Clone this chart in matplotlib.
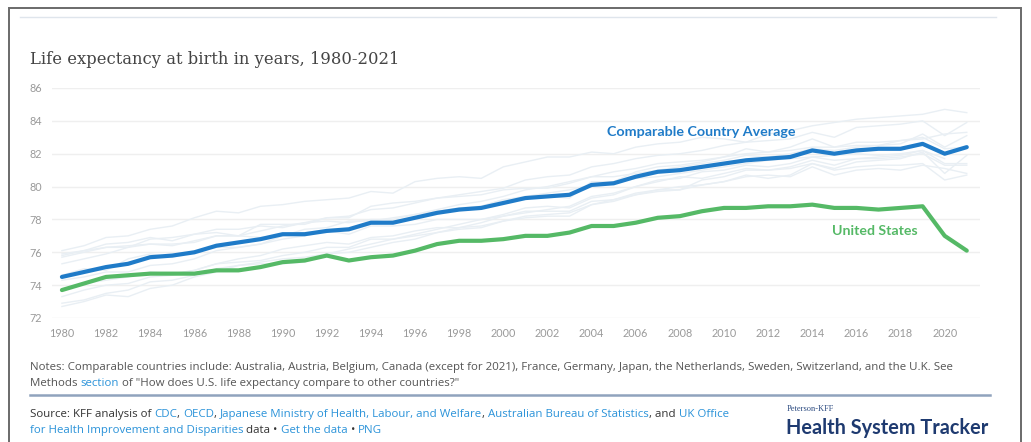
import numpy as np
import matplotlib
matplotlib.use("Agg")
import matplotlib.pyplot as plt
from matplotlib.patches import Rectangle
from matplotlib.lines import Line2D

years = list(range(1980, 2022))

comparable_avg = [74.5, 74.8, 75.1, 75.3, 75.7, 75.8, 76.0, 76.4, 76.6, 76.8,
                  77.1, 77.1, 77.3, 77.4, 77.8, 77.8, 78.1, 78.4, 78.6, 78.7,
                  79.0, 79.3, 79.4, 79.5, 80.1, 80.2, 80.6, 80.9, 81.0, 81.2,
                  81.4, 81.6, 81.7, 81.8, 82.2, 82.0, 82.2, 82.3, 82.3, 82.6,
                  82.0, 82.4]

united_states = [73.7, 74.1, 74.5, 74.6, 74.7, 74.7, 74.7, 74.9, 74.9, 75.1,
                 75.4, 75.5, 75.8, 75.5, 75.7, 75.8, 76.1, 76.5, 76.7, 76.7,
                 76.8, 77.0, 77.0, 77.2, 77.6, 77.6, 77.8, 78.1, 78.2, 78.5,
                 78.7, 78.7, 78.8, 78.8, 78.9, 78.7, 78.7, 78.6, 78.7, 78.8,
                 77.0, 76.1]

# individual comparable countries (faint background lines)
japan = [76.1, 76.4, 76.9, 77.0, 77.4, 77.6, 78.1, 78.5, 78.4, 78.8,
         78.9, 79.1, 79.2, 79.3, 79.7, 79.6, 80.3, 80.5, 80.6, 80.5,
         81.2, 81.5, 81.8, 81.8, 82.1, 82.0, 82.4, 82.6, 82.7, 83.0,
         82.9, 82.7, 83.2, 83.4, 83.7, 83.9, 84.1, 84.2, 84.3, 84.4,
         84.7, 84.5]
switzerland = [75.7, 76.0, 76.3, 76.3, 76.8, 76.9, 77.1, 77.4, 77.4, 77.6,
               77.5, 77.8, 78.1, 78.2, 78.6, 78.7, 79.0, 79.3, 79.5, 79.7,
               79.9, 80.4, 80.6, 80.7, 81.2, 81.4, 81.7, 81.9, 82.0, 82.2,
               82.5, 82.7, 82.8, 82.9, 83.3, 83.0, 83.6, 83.7, 83.8, 84.0,
               83.1, 83.9]
sweden = [75.8, 76.1, 76.5, 76.6, 76.9, 76.7, 77.1, 77.2, 77.0, 77.7,
          77.7, 77.7, 78.1, 78.1, 78.8, 79.0, 79.1, 79.3, 79.4, 79.5,
          79.8, 79.9, 79.9, 80.2, 80.6, 80.6, 80.8, 81.0, 81.2, 81.4,
          81.6, 81.9, 81.8, 82.0, 82.3, 82.2, 82.4, 82.5, 82.6, 83.2,
          82.4, 83.1]
australia = [74.6, 75.0, 74.9, 75.6, 75.9, 75.7, 76.0, 76.3, 76.3, 76.5,
             77.0, 77.4, 77.5, 77.9, 77.9, 78.1, 78.3, 78.6, 78.9, 79.1,
             79.4, 79.8, 80.0, 80.3, 80.6, 80.9, 81.1, 81.4, 81.5, 81.6,
             81.8, 82.0, 82.1, 82.2, 82.4, 82.4, 82.5, 82.5, 82.8, 82.9,
             83.2, 83.3]
canada = [75.3, 75.6, 75.9, 76.3, 76.5, 76.4, 76.7, 77.0, 77.0, 77.3,
          77.6, 77.8, 77.9, 77.8, 78.0, 78.0, 78.3, 78.5, 78.7, 78.8,
          79.2, 79.4, 79.6, 79.8, 80.1, 80.2, 80.5, 80.6, 80.8, 81.0,
          81.2, 81.4, 81.6, 81.7, 81.8, 81.9, 82.0, 81.9, 82.0, 82.2,
          81.7, np.nan]
france = [74.3, 74.5, 74.8, 74.8, 75.2, 75.3, 75.6, 76.1, 76.3, 76.5,
          76.8, 77.0, 77.3, 77.3, 77.7, 77.9, 78.1, 78.5, 78.6, 78.8,
          79.2, 79.3, 79.4, 79.3, 80.3, 80.3, 80.9, 81.2, 81.3, 81.5,
          81.8, 82.3, 82.1, 82.4, 82.9, 82.4, 82.7, 82.7, 82.8, 83.0,
          82.3, 82.4]
germany = [72.9, 73.1, 73.5, 73.7, 74.2, 74.3, 74.6, 75.0, 75.2, 75.3,
           75.3, 75.4, 75.9, 76.0, 76.3, 76.6, 76.8, 77.2, 77.5, 77.8,
           78.2, 78.5, 78.5, 78.5, 79.1, 79.2, 79.6, 79.8, 80.0, 80.1,
           80.3, 80.6, 80.7, 80.6, 81.2, 80.7, 81.0, 81.1, 81.0, 81.3,
           81.1, 80.8]
netherlands = [75.9, 76.1, 76.3, 76.4, 76.5, 76.5, 76.6, 77.0, 77.0, 76.9,
               77.1, 77.2, 77.3, 77.1, 77.6, 77.6, 77.7, 78.0, 78.0, 78.0,
               78.2, 78.4, 78.6, 78.8, 79.4, 79.6, 80.0, 80.4, 80.5, 80.9,
               81.0, 81.3, 81.2, 81.4, 81.8, 81.6, 81.7, 81.8, 81.9, 82.2,
               81.4, 81.4]
uk = [73.7, 74.1, 74.3, 74.5, 74.8, 74.7, 74.9, 75.3, 75.4, 75.5,
      75.8, 76.0, 76.3, 76.3, 76.8, 76.8, 77.0, 77.2, 77.4, 77.5,
      77.9, 78.2, 78.3, 78.4, 78.9, 79.2, 79.5, 79.7, 79.8, 80.4,
      80.6, 81.0, 81.0, 81.1, 81.4, 81.0, 81.2, 81.3, 81.3, 81.4,
      80.4, 80.7]
belgium = [73.3, 73.7, 74.0, 74.1, 74.5, 74.6, 74.9, 75.3, 75.6, 75.8,
           76.2, 76.4, 76.6, 76.5, 76.9, 77.0, 77.3, 77.5, 77.5, 77.6,
           77.9, 78.1, 78.2, 78.2, 78.9, 79.1, 79.5, 79.8, 79.8, 80.1,
           80.3, 80.7, 80.5, 80.7, 81.4, 81.1, 81.5, 81.6, 81.7, 82.1,
           80.8, 81.9]
austria = [72.7, 73.0, 73.4, 73.3, 73.8, 74.0, 74.5, 74.8, 75.2, 75.4,
           75.6, 75.7, 75.9, 76.2, 76.5, 76.8, 77.1, 77.4, 77.7, 78.0,
           78.3, 78.7, 78.8, 78.7, 79.3, 79.5, 80.0, 80.3, 80.6, 80.5,
           80.8, 81.1, 81.0, 81.2, 81.6, 81.3, 81.7, 81.7, 81.8, 82.0,
           81.3, 81.3]
countries = [japan, switzerland, sweden, australia, canada, france,
             germany, netherlands, uk, belgium, austria]

y_ticks = [72, 74, 76, 78, 80, 82, 84, 86]
x_ticks = list(range(1980, 2021, 2))

BLUE = "#1f7bc8"
GREEN = "#55b966"
LINK = "#2b93d9"
TEXT = "#555555"

W, H = 1031, 442
fig = plt.figure(figsize=(W / 100, H / 100), dpi=100)
fig.patch.set_facecolor("white")


def fx(px):
    return px / W


def fy(py):
    return 1 - py / H


# outer frame and top rule
fig.patches.append(Rectangle((fx(9), fy(460)), fx(1021) - fx(9), fy(8) - fy(460),
                             transform=fig.transFigure, fill=False,
                             edgecolor="#6a6a6a", linewidth=1.4))
fig.lines.append(Line2D([fx(20), fx(996)], [fy(17), fy(17)],
                        transform=fig.transFigure, color="#dfe5ec", linewidth=1))

fig.text(fx(30), fy(64), "Life expectancy at birth in years, 1980-2021",
         family="DejaVu Serif", fontsize=11.8, color="#444444", va="baseline")

ax = fig.add_axes([fx(52), fy(318), fx(980) - fx(52), (318 - 88) / H])
ax.set_xlim(1979.55, 2021.6)
ax.set_ylim(72, 86)
for s in ax.spines.values():
    s.set_visible(False)
ax.set_yticks(y_ticks)
ax.set_xticks(x_ticks)
ax.tick_params(length=0, labelsize=7.8, labelcolor="#9a9a9a", pad=7)
for lbl in ax.get_xticklabels() + ax.get_yticklabels():
    lbl.set_family("Lato")
ax.grid(axis="y", color="#efefef", linewidth=1)
ax.set_axisbelow(True)

for c in countries:
    ax.plot(years, c, color="#e9eff4", linewidth=1, zorder=2)
ax.plot(years, comparable_avg, color=BLUE, linewidth=3, zorder=4,
        solid_capstyle="round", clip_on=False)
ax.plot(years, united_states, color=GREEN, linewidth=3, zorder=4,
        solid_capstyle="round", clip_on=False)

ax.text(2004.7, 83.35, "Comparable Country Average", color=BLUE, fontsize=10.3,
        family="Lato", fontweight="bold", va="center", ha="left")
ax.text(2014.9, 77.3, "United States", color=GREEN, fontsize=10.2,
        family="Lato", fontweight="bold", va="center", ha="left")

renderer = fig.canvas.get_renderer()


def rich_line(x_px, y_px, parts, size=8.25):
    x = fx(x_px)
    for txt, color, weight in parts:
        t = fig.text(x, fy(y_px), txt, color=color, fontsize=size,
                     fontweight=weight, family="Open Sans", va="baseline")
        bb = t.get_window_extent(renderer)
        x += bb.width / fig.bbox.width


rich_line(30, 370, [("Notes: Comparable countries include: Australia, Austria, Belgium, "
                     "Canada (except for 2021), France, Germany, Japan, the Netherlands, "
                     "Sweden, Switzerland, and the U.K. See", TEXT, "normal")])
rich_line(30, 386, [("Methods ", TEXT, "normal"), ("section", LINK, "normal"),
                    (" of \"How does U.S. life expectancy compare to other countries?\"",
                     TEXT, "normal")])

fig.lines.append(Line2D([fx(30), fx(990)], [fy(395), fy(395)],
                        transform=fig.transFigure, color="#90a3bd", linewidth=1.8))

rich_line(30, 417, [("Source: KFF analysis of ", "#333333", "normal"),
                    ("CDC", LINK, "normal"), (", ", "#333333", "normal"),
                    ("OECD", LINK, "normal"), (", ", "#333333", "normal"),
                    ("Japanese Ministry of Health, Labour, and Welfare", LINK, "normal"),
                    (", ", "#333333", "normal"),
                    ("Australian Bureau of Statistics", LINK, "normal"),
                    (", and ", "#333333", "normal"), ("UK Office", LINK, "normal")])
rich_line(30, 433, [("for Health Improvement and Disparities", LINK, "normal"),
                    (" data \u2022 ", "#333333", "normal"),
                    ("Get the data", LINK, "normal"), (" \u2022 ", "#333333", "normal"),
                    ("PNG", LINK, "normal")])

fig.text(fx(787), fy(411), "Peterson-KFF", family="Liberation Serif", fontsize=6,
         color="#2b4a80", va="baseline")
fig.text(fx(786), fy(434), "Health System Tracker", family="Lato", fontweight="bold",
         fontsize=14.3, color="#1e3a70", va="baseline")

fig.savefig("out.png", dpi=100, facecolor="white")
